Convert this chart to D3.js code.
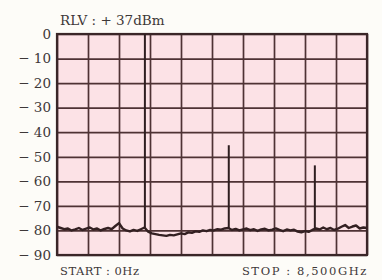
<!DOCTYPE html>
<html>
<head>
<meta charset="utf-8">
<script src="https://cdn.jsdelivr.net/npm/d3@7"></script>
<style>
  body { margin: 0; background: #fdfcf8; }
  svg { display: block; }
  .lbl { font-family: "DejaVu Serif", serif; fill: #3e3838; }
  .grid line { stroke: #4e3234; stroke-width: 1.7; }
  .grid path { display: none; }
</style>
</head>
<body>
<svg width="382" height="280"></svg>
<script>
// level ticks (dB) and their labels
const levelTicks = [0, -10, -20, -30, -40, -50, -60, -70, -80, -90];
const levelLabels = ["0", "− 10", "− 20", "− 30", "− 40", "− 50", "− 60", "− 70", "− 80", "− 90"];
// frequency grid (MHz), 10 divisions over the span
const freqTicks = [0, 850, 1700, 2550, 3400, 4250, 5100, 5950, 6800, 7650, 8500];

// noise floor, one reading every 100 MHz from 0 to 8500 MHz
const noiseFreq = d3.range(0, 8501, 100);
const noiseLevel = [
  -78.5, -79, -79.5, -79.2, -80, -79.6, -79, -79.8, -79.3, -78.8,
  -79.6, -79.2, -80, -79.4, -79, -79.5, -78.2, -77, -79.2, -80,
  -80.4, -79.8, -80.2, -79.5, -78.8, -80.5, -81.2, -81.5, -81.8, -82,
  -82.2, -81.8, -82, -81.6, -81.2, -81.5, -80.8, -81, -80.4, -80.6,
  -80, -80.3, -79.8, -80, -79.5, -79.7, -79.2, -79, -79.8, -79.4,
  -80, -79.6, -79.2, -79.9, -79.5, -80.2, -79.6, -79.3, -80, -79.7,
  -79.2, -79.8, -80.3, -79.6, -80, -79.7, -80.5, -80.8, -80.3, -80.6,
  -79.8, -79.2, -79.6, -78.8, -79.5, -79, -79.8, -79.3, -78.5, -77.8,
  -79, -78.4, -78, -79.2, -78.8, -79
];

// carrier and harmonics
const spikeFreq = [2410, 4710, 7070];
const spikePeak = [0, -45.3, -53.5];
const spikeBase = [-78.8, -79, -79.2];

const margin = { top: 34, right: 15, bottom: 25, left: 57 },
      width = 382 - margin.left - margin.right,
      height = 280 - margin.top - margin.bottom;

const svg = d3.select("svg")
    .append("g")
    .attr("transform", `translate(${margin.left},${margin.top})`);

const x = d3.scaleLinear().domain([0, 8500]).range([0, width]);
const y = d3.scaleLinear().domain([-90, 0]).range([height, 0]);

svg.append("rect")
    .attr("width", width)
    .attr("height", height)
    .attr("fill", "#fce2e6");

// grid lines
svg.append("g")
    .attr("class", "grid")
    .call(d3.axisLeft(y).tickValues(levelTicks).tickSize(-width).tickFormat(""));

svg.append("g")
    .attr("class", "grid")
    .attr("transform", `translate(0,${height})`)
    .call(d3.axisBottom(x).tickValues(freqTicks).tickSize(height).tickFormat(""))
    .selectAll("line")
    .attr("y2", -height);

svg.append("rect")
    .attr("width", width)
    .attr("height", height)
    .attr("fill", "none")
    .attr("stroke", "#3a2628")
    .attr("stroke-width", 2.2);

// level labels
svg.append("g")
    .selectAll("text")
    .data(levelTicks)
    .enter().append("text")
    .attr("class", "lbl")
    .attr("x", -6)
    .attr("y", d => y(d))
    .attr("dy", "0.35em")
    .attr("text-anchor", "end")
    .style("font-size", "13.5px")
    .text((d, i) => levelLabels[i]);

// trace
const line = d3.line()
    .x(d => x(d[0]))
    .y(d => y(d[1]));

svg.append("path")
    .datum(noiseFreq.map((f, i) => [f, noiseLevel[i]]))
    .attr("fill", "none")
    .attr("stroke", "#332022")
    .attr("stroke-width", 2.4)
    .attr("stroke-linejoin", "round")
    .attr("d", line);

svg.append("g")
    .selectAll("line")
    .data(spikeFreq)
    .enter().append("line")
    .attr("x1", d => x(d))
    .attr("x2", d => x(d))
    .attr("y1", (d, i) => y(spikeBase[i]))
    .attr("y2", (d, i) => y(spikePeak[i]))
    .attr("stroke", "#2e1e20")
    .attr("stroke-width", 2);

// annotations
svg.append("text")
    .attr("class", "lbl")
    .attr("x", 3)
    .attr("y", -9)
    .style("font-size", "13.5px")
    .text("RLV : + 37dBm");

svg.append("text")
    .attr("class", "lbl")
    .attr("x", 3)
    .attr("y", height + 20)
    .style("font-size", "11.5px")
    .style("letter-spacing", "0.5px")
    .text("START : 0Hz");

svg.append("text")
    .attr("class", "lbl")
    .attr("x", width + 1)
    .attr("y", height + 20)
    .attr("text-anchor", "end")
    .style("font-size", "11.5px")
    .style("letter-spacing", "1.6px")
    .text("STOP : 8,500GHz");
</script>
</body>
</html>
